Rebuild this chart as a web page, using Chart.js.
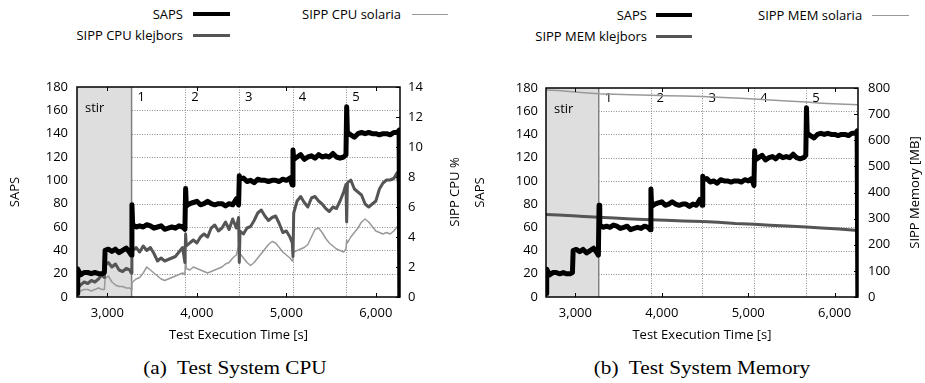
<!DOCTYPE html>
<html>
<head>
<meta charset="utf-8">
<script src="https://cdn.jsdelivr.net/npm/chart.js@4.4.0/dist/chart.umd.min.js"></script>
<style>
  body { margin:0; background:#fff; width:925px; height:383px; position:relative; overflow:hidden; font-family:"Open Sans", sans-serif; }
  canvas { position:absolute; top:80px; }
  .lg { position:absolute; font-size:13px; line-height:18px; color:#000; white-space:nowrap; }
  .r { text-align:right; }
  .sw { position:absolute; height:0; }
  .cap { position:absolute; top:356px; font-family:"Liberation Serif", serif; font-size:18px; line-height:24px; white-space:nowrap; transform:translateX(-50%) scaleX(1.18); }
</style>
</head>
<body>
<!-- legends -->
<div class="lg r" style="left:0;width:183px;top:5px">SAPS</div>
<div class="sw" style="left:193px;width:37px;top:12px;border-top:4px solid #000"></div>
<div class="lg r" style="left:0;width:183px;top:26px">SIPP CPU klejbors</div>
<div class="sw" style="left:193px;width:37px;top:33.5px;border-top:3px solid #555"></div>
<div class="lg" style="left:302px;top:5px">SIPP CPU solaria</div>
<div class="sw" style="left:412px;width:36px;top:13.5px;border-top:1px solid #999"></div>

<div class="lg r" style="left:462px;width:185px;top:6px">SAPS</div>
<div class="sw" style="left:656px;width:36px;top:13px;border-top:4px solid #000"></div>
<div class="lg r" style="left:462px;width:185px;top:27px">SIPP MEM klejbors</div>
<div class="sw" style="left:656px;width:36px;top:34.5px;border-top:3px solid #555"></div>
<div class="lg" style="left:758px;top:6px">SIPP MEM solaria</div>
<div class="sw" style="left:872px;width:37px;top:14.5px;border-top:1px solid #999"></div>

<canvas id="cpuChart" width="462" height="263" style="left:0"></canvas>
<canvas id="memChart" width="463" height="263" style="left:462px"></canvas>

<div class="cap" style="left:235px">(a)&nbsp; Test System CPU</div>
<div class="cap" style="left:702px">(b)&nbsp; Test System Memory</div>

<script>
// test time [s], shared by SAPS and CPU series
const timeSec = [
  2660, 2668, 2700, 2740, 2780, 2820, 2860, 2900, 2940, 2966,
  2974, 3010, 3050, 3090, 3130, 3170, 3210, 3250, 3266,
  3274, 3282, 3320, 3360, 3400, 3440, 3480, 3520, 3560, 3600, 3640, 3680, 3720, 3760, 3800, 3840, 3866,
  3874, 3882, 3920, 3960, 4000, 4040, 4080, 4120, 4160, 4200, 4240, 4280, 4320, 4360, 4400, 4440, 4466,
  4474, 4482, 4520, 4560, 4600, 4640, 4680, 4720, 4760, 4800, 4840, 4880, 4920, 4960, 5000, 5040, 5066,
  5074, 5082, 5120, 5160, 5200, 5240, 5280, 5320, 5360, 5400, 5440, 5480, 5520, 5560, 5600, 5640, 5666,
  5674, 5682, 5720, 5760, 5800, 5840, 5880, 5920, 5960, 6000, 6040, 6080, 6120, 6160, 6200, 6240, 6260, 6268
];
const saps = [
  3, 24, 19, 21, 21, 20, 21, 20, 20, 21,
  40, 41, 39, 41, 38, 40, 42, 38, 36,
  79, 62, 60, 61, 60, 62, 61, 59, 60, 61, 58, 59, 60, 59, 61, 60, 58,
  93, 78, 80, 81, 82, 79, 80, 82, 80, 79, 80, 80, 78, 80, 79, 84, 79,
  104, 101, 102, 99, 100, 98, 101, 100, 100, 99, 100, 100, 99, 101, 100, 102, 96,
  126, 118, 120, 122, 118, 120, 121, 119, 122, 120, 121, 120, 123, 120, 119, 120, 122,
  163, 141, 139, 137, 140, 141, 140, 141, 140, 140, 139, 140, 140, 139, 141, 141, 143, 0
];
const cpuKlejbors = [
  0.3, 0.6, 0.8, 1.0, 0.9, 1.1, 1.0, 1.2, 1.5, 1.3,
  2.1, 2.3, 2.0, 2.2, 1.8, 1.7, 1.9, 1.8, 1.6,
  2.7, 3.1, 3.3, 3.0, 3.4, 3.1, 3.3, 2.9, 2.4, 2.6, 2.4, 2.5, 2.6, 2.7, 3.0, 3.3, 2.3,
  4.2, 3.4, 3.6, 3.8, 3.6, 4.0, 4.2, 4.0, 4.6, 4.8, 4.4, 4.6, 5.0, 4.5, 5.2, 4.6, 5.3,
  2.3, 4.4, 4.2, 4.6, 4.7, 5.1, 5.6, 5.8, 5.4, 5.1, 5.3, 5.4, 4.9, 4.3, 4.4, 4.0, 3.6,
  2.7, 5.6, 6.4, 6.7, 6.3, 6.0, 6.6, 6.7, 6.4, 6.2, 5.9, 5.7, 6.0, 5.9, 6.4, 7.0, 7.5,
  5.0, 7.6, 7.8, 7.2, 7.0, 6.8, 6.2, 6.0, 6.2, 6.4, 7.2, 7.6, 7.8, 7.8, 7.9, 8.3, 7.2, 6.5
];
const cpuSolaria = [
  0.3, 0.4, 0.4, 0.5, 0.5, 0.4, 0.5, 0.6, 0.5, 0.5,
  1.2, 1.4, 1.0, 0.8, 0.7, 0.7, 0.6, 0.6, 0.5,
  1.0, 1.0, 1.2, 1.3, 1.6, 2.0, 1.8, 1.6, 1.4, 1.2, 1.1, 1.2, 1.3, 1.4, 1.5, 1.6, 1.5,
  2.8, 1.9, 1.8, 2.0, 1.9, 1.8, 1.7, 1.6, 1.7, 1.8, 1.9, 2.0, 2.2, 2.3, 2.6, 2.8, 3.4,
  2.6, 2.9, 2.6, 2.3, 2.1, 2.3, 2.6, 2.9, 3.2, 3.5, 3.7, 3.6, 3.3, 3.0, 2.8, 2.6, 2.4,
  2.9, 3.0, 3.1, 3.2, 3.3, 3.5, 4.0, 4.5, 4.6, 4.3, 3.9, 3.6, 3.4, 3.2, 3.1, 3.0, 3.2,
  3.8, 3.6, 4.0, 4.3, 4.6, 5.0, 5.2, 5.0, 4.7, 4.4, 4.3, 4.2, 4.3, 4.2, 4.4, 4.7, 4.6, 4.6
];
// memory series are sampled more coarsely
const memTimeSec = [2660, 2800, 2966, 3100, 3270, 3450, 3650, 3870, 4050, 4250, 4470, 4650, 4850, 5070, 5250, 5450, 5670, 5850, 6050, 6268];
const memKlejbors = [316, 314, 311, 308, 305, 302, 299, 296, 294, 291, 289, 286, 281, 278, 275, 272, 268, 264, 260, 255];
const memSolaria = [792, 790, 786, 782, 778, 776, 774, 772, 770, 769, 767, 765, 762, 758, 754, 750, 746, 742, 739, 736];

const timeTicks = [3000, 4000, 5000, 6000];
const sapsTicks = [0, 20, 40, 60, 80, 100, 120, 140, 160, 180];
const cpuTicks = [0, 2, 4, 6, 8, 10, 12, 14];
const memTicks = [0, 100, 200, 300, 400, 500, 600, 700, 800];
const stirEnd = 3270;
const phaseStarts = [3270, 3870, 4470, 5070, 5670];
const phaseLabels = ['1', '2', '3', '4', '5'];

const FONT = { family: '"Open Sans", sans-serif', size: 13 };
const FONT_CSS = '13px "Open Sans", sans-serif';

function seg(ctx, x1, y1, x2, y2) {
  ctx.beginPath(); ctx.moveTo(x1, y1); ctx.lineTo(x2, y2); ctx.stroke();
}

// stir shading, phase markers, dotted grid, frame and inner ticks
const phasePlugin = {
  id: 'phases',
  beforeDatasetsDraw(chart) {
    const { ctx, chartArea: a, scales: { x, y } } = chart;
    ctx.save();
    ctx.strokeStyle = '#8c8c8c';
    ctx.lineWidth = 1;
    ctx.setLineDash([1, 1.5]);
    sapsTicks.slice(1, -1).forEach(v => {
      const py = Math.round(y.getPixelForValue(v)) + 0.5;
      seg(ctx, a.left, py, a.right, py);
    });
    phaseStarts.slice(1).forEach(t => {
      const px = Math.round(x.getPixelForValue(t)) + 0.5;
      seg(ctx, px, a.top, px, a.bottom);
    });
    ctx.setLineDash([]);
    const sx = x.getPixelForValue(stirEnd);
    ctx.fillStyle = '#dedede';
    ctx.fillRect(a.left, a.top, sx - a.left, a.bottom - a.top);
    ctx.strokeStyle = '#808080';
    ctx.lineWidth = 1.5;
    seg(ctx, sx, a.top, sx, a.bottom);

    ctx.fillStyle = '#000';
    ctx.font = FONT_CSS;
    ctx.textBaseline = 'middle';
    ctx.textAlign = 'left';
    ctx.fillText('stir', a.left + 8, a.top + 21);
    phaseStarts.forEach((t, i) => {
      ctx.fillText(phaseLabels[i], x.getPixelForValue(t) + 6, a.top + 10.5);
    });
    ctx.restore();
  },
  afterDatasetsDraw(chart) {
    const { ctx, chartArea: a, scales: { x, y2 } } = chart;
    ctx.save();
    ctx.strokeStyle = '#000';
    ctx.lineWidth = 1;
    timeTicks.forEach(t => {
      const px = Math.round(x.getPixelForValue(t)) + 0.5;
      seg(ctx, px, a.bottom, px, a.bottom - 4);
      seg(ctx, px, a.top, px, a.top + 4);
    });
    y2.ticks.forEach(tk => {
      const py = Math.round(y2.getPixelForValue(tk.value)) + 0.5;
      seg(ctx, a.right, py, a.right - 4, py);
    });
    ctx.lineWidth = 1.5;
    ctx.strokeRect(a.left, a.top, a.right - a.left, a.bottom - a.top);
    ctx.restore();
  },
  // right axis title reads bottom-to-top like the left one
  afterDraw(chart) {
    const { ctx, chartArea: a } = chart;
    const o = chart.options.plugins.phases;
    ctx.save();
    ctx.translate(chart.width - o.rightTitleOffset, (a.top + a.bottom) / 2);
    ctx.rotate(-Math.PI / 2);
    ctx.fillStyle = '#000';
    ctx.font = FONT_CSS;
    ctx.textAlign = 'center';
    ctx.textBaseline = 'middle';
    ctx.fillText(o.rightTitle, 0, 0);
    ctx.restore();
  }
};

function makeChart(id, cfg) {
  const toPts = (xs, ys) => xs.map((t, i) => ({ x: t, y: ys[i] }));
  const noPad = s => { s.paddingTop = 0; s.paddingBottom = 0; };
  return new Chart(document.getElementById(id), {
    type: 'line',
    data: {
      datasets: [
        { data: toPts(timeSec, saps), yAxisID: 'y', borderColor: '#000', borderWidth: 5 },
        { data: toPts(cfg.kTime, cfg.klejbors), yAxisID: 'y2', borderColor: '#555', borderWidth: 3 },
        { data: toPts(cfg.kTime, cfg.solaria), yAxisID: 'y2', borderColor: '#999', borderWidth: 1.5 }
      ]
    },
    options: {
      responsive: false,
      animation: false,
      events: [],
      elements: { point: { radius: 0 }, line: { tension: 0, borderJoinStyle: 'round', fill: false } },
      layout: { padding: { top: cfg.padTop, bottom: 0, left: 0, right: 0 } },
      plugins: {
        legend: { display: false }, tooltip: { enabled: false },
        phases: { rightTitle: cfg.rTitle, rightTitleOffset: cfg.rightTitleOffset }
      },
      scales: {
        x: {
          type: 'linear', min: 2660, max: 6270,
          afterBuildTicks: s => { s.ticks = timeTicks.map(v => ({ value: v })); },
          afterFit: s => { s.height = 46; },
          grid: { display: false, drawTicks: false },
          border: { display: false },
          ticks: { padding: 8, maxRotation: 0, autoSkip: false, color: '#000', font: FONT,
                   callback: v => v.toLocaleString('en-US') },
          title: { display: true, text: 'Test Execution Time [s]', color: '#000', font: FONT, padding: { top: 0, bottom: 0 } }
        },
        y: {
          position: 'left', min: 0, max: 180,
          afterBuildTicks: s => { s.ticks = sapsTicks.map(v => ({ value: v })); },
          afterFit: s => { s.width = cfg.leftW; noPad(s); },
          grid: { display: false, drawTicks: false },
          border: { display: false },
          ticks: { padding: cfg.leftPad, color: '#000', font: FONT },
          title: { display: true, text: 'SAPS', color: '#000', font: FONT, padding: { top: cfg.leftTitle, bottom: 0 } }
        },
        y2: {
          position: 'right', min: 0, max: cfg.rMax,
          afterBuildTicks: s => { s.ticks = cfg.rTicks.map(v => ({ value: v })); },
          afterFit: s => { s.width = cfg.rightW; noPad(s); },
          grid: { display: false, drawTicks: false },
          border: { display: false },
          ticks: { padding: cfg.rightPad, color: '#000', font: FONT },
          title: { display: false }
        }
      }
    },
    plugins: [phasePlugin]
  });
}

makeChart('cpuChart', {
  kTime: timeSec, klejbors: cpuKlejbors, solaria: cpuSolaria,
  rMax: 14, rTicks: cpuTicks, rTitle: 'SIPP CPU %',
  padTop: 7, leftW: 77, rightW: 62, leftPad: 9, rightPad: 8, leftTitle: 7, rightTitleOffset: 7
});
makeChart('memChart', {
  kTime: memTimeSec, klejbors: memKlejbors, solaria: memSolaria,
  rMax: 800, rTicks: memTicks, rTitle: 'SIPP Memory [MB]',
  padTop: 8, leftW: 84, rightW: 67, leftPad: 8, rightPad: 10, leftTitle: 10, rightTitleOffset: 10
});
</script>
</body>
</html>
